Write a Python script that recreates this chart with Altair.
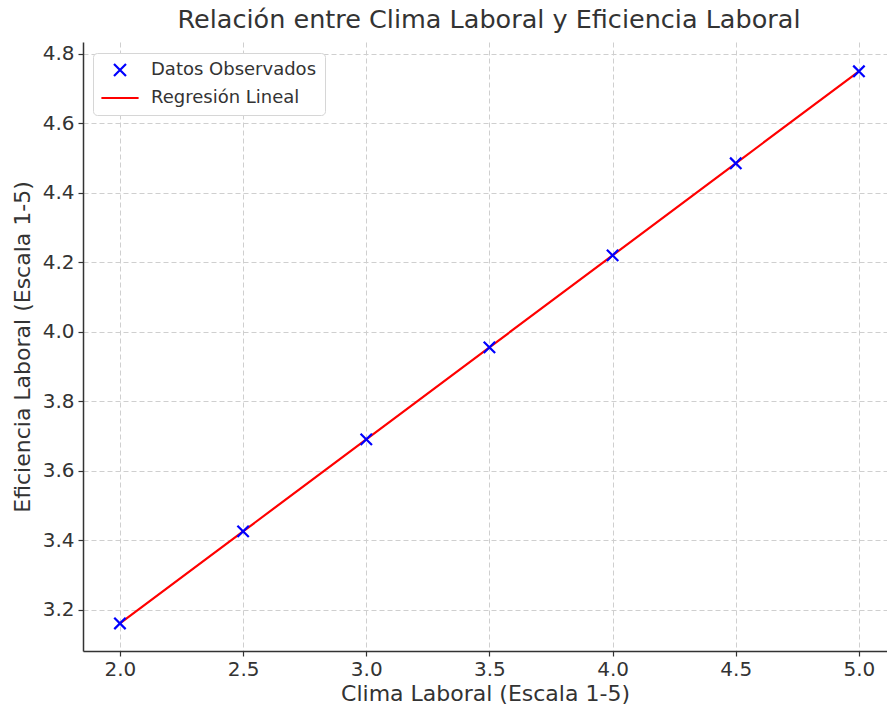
import altair as alt
import pandas as pd

clima = [2.0, 2.5, 3.0, 3.5, 4.0, 4.5, 5.0]
eficiencia_obs = [3.16, 3.425, 3.69, 3.955, 4.22, 4.485, 4.75]
eficiencia_fit = [3.16, 3.425, 3.69, 3.955, 4.22, 4.485, 4.75]
series = ["Datos Observados", "Regresión Lineal"]
x_ticks = [2.0, 2.5, 3.0, 3.5, 4.0, 4.5, 5.0]
y_ticks = [3.2, 3.4, 3.6, 3.8, 4.0, 4.2, 4.4, 4.6, 4.8]

obs = pd.DataFrame({"x": clima, "y": eficiencia_obs, "serie": series[0]})
fit = pd.DataFrame({"x": clima, "y": eficiencia_fit, "serie": series[1]})

XPATH = "M-1,-1L1,1M-1,1L1,-1"
LINEPATH = "M-3.1,0L3.1,0"
FONT = "DejaVu Sans"
TXT = "#333333"

xenc = alt.X("x:Q", scale=alt.Scale(domain=[1.85, 5.114], nice=False, zero=False),
             axis=alt.Axis(values=x_ticks, format=".1f", title="Clima Laboral (Escala 1-5)"))
yenc = alt.Y("y:Q", scale=alt.Scale(domain=[3.0805, 4.8345], nice=False, zero=False),
             axis=alt.Axis(values=y_ticks, format=".1f", title="Eficiencia Laboral (Escala 1-5)"))

color = alt.Color("serie:N", scale=alt.Scale(domain=series, range=["#0000ff", "#ff0000"]),
                  legend=alt.Legend(title=None))

line = alt.Chart(fit).mark_line(strokeWidth=2.2).encode(x=xenc, y=yenc, color=color)

points = alt.Chart(obs).mark_point(shape=XPATH, filled=False, strokeWidth=2.2, opacity=1, size=130).encode(
    x=xenc, y=yenc, color=color,
    shape=alt.Shape("serie:N", scale=alt.Scale(domain=series, range=[XPATH, LINEPATH]),
                    legend=alt.Legend(title=None)),
)

chart = alt.layer(line, points).properties(
    width=804, height=609,
    title=alt.TitleParams("Relación entre Clima Laboral y Eficiencia Laboral",
                          fontSize=25.5, font=FONT, color=TXT, fontWeight="normal",
                          anchor="middle", offset=9, dx=4),
    autosize=alt.AutoSizeParams(type="none"),
    padding={"left": 83, "top": 42, "right": 0, "bottom": 58},
).configure_view(stroke=None).configure_axis(
    labelFont=FONT, titleFont=FONT, labelFontSize=20, titleFontSize=22,
    labelColor=TXT, titleColor=TXT, titleFontWeight="normal",
    domainColor="#333333", domainWidth=1.5, tickColor="#333333", tickSize=5, tickWidth=1.2,
    gridColor="#cfcfcf", gridDash=[5, 3], gridWidth=1,
).configure_axisX(labelPadding=3, titlePadding=4).configure_axisY(
    labelPadding=4, titlePadding=8
).configure_legend(
    orient="none", legendX=10, legendY=11, fillColor="white", strokeColor="#d6d6d6",
    cornerRadius=4, padding=8, rowPadding=8, labelFont=FONT, labelFontSize=18,
    labelColor=TXT, symbolStrokeWidth=2.2, symbolSize=144, symbolOffset=10, labelOffset=22,
    labelLimit=400,
)

chart.save("out.html", embed_options={"renderer": "svg", "actions": False})
